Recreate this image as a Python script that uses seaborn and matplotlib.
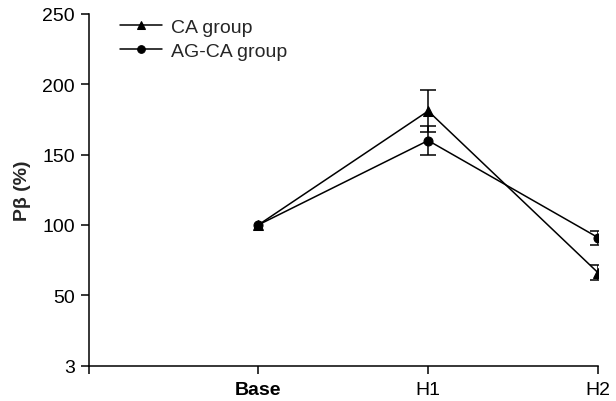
import matplotlib
matplotlib.use("Agg")
import matplotlib.pyplot as plt
import seaborn as sns
import pandas as pd
import numpy as np

sns.set_theme(style="ticks")
plt.rcParams['font.family'] = ['Liberation Sans', 'DejaVu Sans']

timepoints = ["Base", "H1", "H2"]
x_pos = [1, 2, 3]
ca_mean = [100, 181, 66]
ca_err = [0, 15, 5.5]
agca_mean = [100, 160, 91]
agca_err = [0, 10, 5]
y_ticks = [0, 50, 100, 150, 200, 250]
y_tick_labels = ["3", "50", "100", "150", "200", "250"]

df = pd.DataFrame({
    "x": x_pos * 2,
    "value": ca_mean + agca_mean,
    "err": ca_err + agca_err,
    "group": ["CA group"] * 3 + ["AG-CA group"] * 3,
})

fig = plt.figure(figsize=(6.16, 4.02), dpi=100)
ax = fig.add_axes([0.1437, 0.0883, 0.8271, 0.8744])

sns.lineplot(data=df, x="x", y="value", hue="group", style="group",
             markers={"CA group": "^", "AG-CA group": "o"}, dashes=False,
             palette={"CA group": "black", "AG-CA group": "black"},
             markersize=6.5, linewidth=1.1, ax=ax, legend=True,
             markeredgecolor="black")

for grp, sub in df.groupby("group"):
    s = sub[sub["err"] > 0]
    ax.errorbar(s["x"], s["value"], yerr=s["err"], fmt="none",
                ecolor="black", elinewidth=1.1, capsize=6, capthick=1.1)

ax.set_xlim(0, 3)
ax.set_ylim(0, 250)
ax.set_xticks([0] + x_pos)
ax.set_xticklabels([""] + timepoints)
ax.set_yticks(y_ticks)
ax.set_yticklabels(y_tick_labels)
ax.tick_params(axis="both", labelsize=14, direction="out", width=1.1, colors="black")
ax.tick_params(axis="y", length=5.8, pad=4)
ax.tick_params(axis="x", length=5.8, pad=5)
for lab in ax.get_xticklabels():
    if lab.get_text() == "Base":
        lab.set_fontweight("bold")
ax.set_xlabel("")
ax.set_ylabel("Pβ (%)", fontsize=14, fontweight="bold", labelpad=8)
for sp in ["top", "right"]:
    ax.spines[sp].set_visible(False)
for sp in ["left", "bottom"]:
    ax.spines[sp].set_linewidth(1.1)
    ax.spines[sp].set_color("black")

leg = ax.legend(loc="upper left", bbox_to_anchor=(0.046, 1.011), frameon=False,
                fontsize=14, handlelength=2.15, handletextpad=0.5, labelspacing=0.35,
                borderaxespad=0, markerscale=0.85)
fig.savefig("out.png", dpi=100)
